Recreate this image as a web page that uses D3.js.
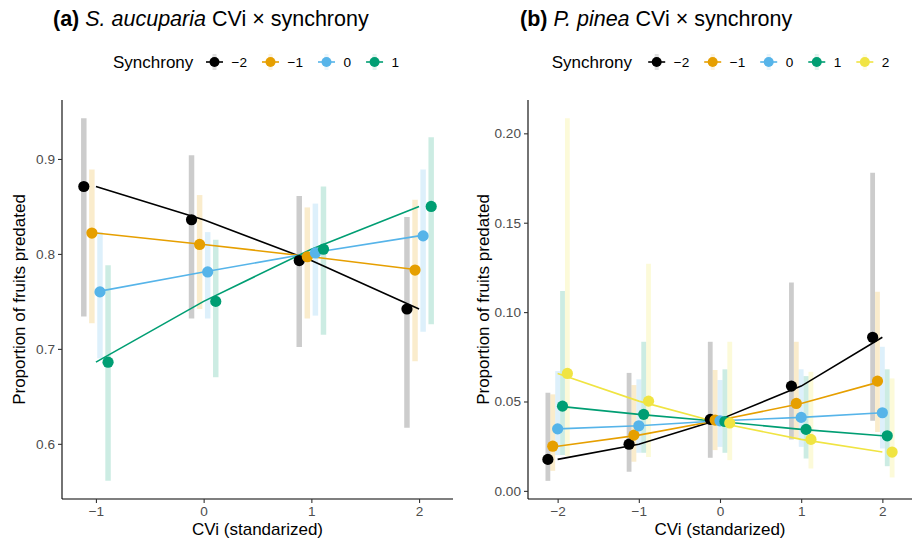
<!DOCTYPE html>
<html>
<head>
<meta charset="utf-8">
<script src="https://cdn.jsdelivr.net/npm/d3@7/dist/d3.min.js"></script>
<style>
  html, body { margin: 0; padding: 0; background: #fff; }
  svg { display: block; font-family: "Liberation Sans", Arial, Helvetica, sans-serif; }
</style>
</head>
<body>
<svg id="chart" width="921" height="544"></svg>
<script>
// ---------------- DATA ----------------
// Panel (a): S. aucuparia
const cviA = [-1, 0, 1, 2];
const syncA = ["\u22122", "\u22121", "0", "1"];
const fitA = [
  [0.871, 0.836, 0.793, 0.742],
  [0.822, 0.810, 0.797, 0.783],
  [0.760, 0.781, 0.801, 0.819],
  [0.686, 0.750, 0.805, 0.850]
];
const loA = [
  [0.734, 0.732, 0.702, 0.617],
  [0.727, 0.742, 0.732, 0.687],
  [0.690, 0.732, 0.735, 0.718],
  [0.561, 0.670, 0.715, 0.726]
];
const hiA = [
  [0.943, 0.904, 0.861, 0.839],
  [0.889, 0.862, 0.849, 0.857],
  [0.823, 0.823, 0.853, 0.889],
  [0.788, 0.815, 0.871, 0.923]
];
const yTicksA = [0.6, 0.7, 0.8, 0.9];
const yTickLabelsA = ["0.6", "0.7", "0.8", "0.9"];
const xTicksA = [-1, 0, 1, 2];
const xTickLabelsA = ["\u22121", "0", "1", "2"];

// Panel (b): P. pinea
const cviB = [-2, -1, 0, 1, 2];
const syncB = ["\u22122", "\u22121", "0", "1", "2"];
const fitB = [
  [0.0176, 0.0261, 0.0400, 0.0586, 0.0859],
  [0.0250, 0.0312, 0.0396, 0.0489, 0.0614],
  [0.0347, 0.0364, 0.0392, 0.0411, 0.0437],
  [0.0474, 0.0428, 0.0388, 0.0344, 0.0308],
  [0.0657, 0.0502, 0.0380, 0.0288, 0.0217]
];
const loB = [
  [0.0056, 0.0107, 0.0185, 0.0288, 0.0392],
  [0.0112, 0.0163, 0.0228, 0.0293, 0.0330],
  [0.0200, 0.0213, 0.0246, 0.0246, 0.0237],
  [0.0200, 0.0213, 0.0213, 0.0181, 0.0138],
  [0.0194, 0.0190, 0.0172, 0.0125, 0.0075]
];
const hiB = [
  [0.0549, 0.0660, 0.0834, 0.1165, 0.1780],
  [0.0540, 0.0592, 0.0676, 0.0834, 0.1114],
  [0.0670, 0.0624, 0.0620, 0.0680, 0.0806],
  [0.1118, 0.0834, 0.0680, 0.0642, 0.0680],
  [0.2085, 0.1270, 0.0834, 0.0666, 0.0629]
];
const yTicksB = [0, 0.05, 0.10, 0.15, 0.20];
const yTickLabelsB = ["0.00", "0.05", "0.10", "0.15", "0.20"];
const xTicksB = [-2, -1, 0, 1, 2];
const xTickLabelsB = ["\u22122", "\u22121", "0", "1", "2"];

const palette = ["#000000", "#E69F00", "#56B4E9", "#009E73", "#F0E442"];

// ---------------- DRAW ----------------
const svg = d3.select("#chart");
svg.append("rect").attr("width", 921).attr("height", 544).attr("fill", "#fff");

function drawPanel(cfg) {
  const n = cfg.groups.length;
  const dodge = 0.3;
  const xr = d3.extent(cfg.x);
  const xPad = dodge / 2;
  const xspan = (xr[1] - xr[0]) + 2 * xPad;
  const x = d3.scaleLinear()
    .domain([xr[0] - xPad - 0.05 * xspan, xr[1] + xPad + 0.05 * xspan])
    .range([cfg.left, cfg.right]);
  const ymin = d3.min(cfg.lo.flat()), ymax = d3.max(cfg.hi.flat());
  const yspan = ymax - ymin;
  const y = d3.scaleLinear()
    .domain([ymin - 0.05 * yspan, ymax + 0.05 * yspan])
    .range([cfg.bottom, cfg.top]);

  const g = svg.append("g");
  const off = i => (i - (n - 1) / 2) * dodge / n;

  // CI bars
  cfg.groups.forEach((grp, i) => {
    g.append("g").selectAll("line")
      .data(cfg.x.map((xv, j) => ({ xv, lo: cfg.lo[i][j], hi: cfg.hi[i][j] })))
      .join("line")
      .attr("x1", d => x(d.xv + off(i))).attr("x2", d => x(d.xv + off(i)))
      .attr("y1", d => y(d.lo)).attr("y2", d => y(d.hi))
      .attr("stroke", palette[i]).attr("stroke-opacity", 0.2)
      .attr("stroke-width", cfg.barW);
  });
  // lines
  const line = d3.line().x(d => x(d.xv)).y(d => y(d.v));
  cfg.groups.forEach((grp, i) => {
    g.append("path")
      .datum(cfg.x.map((xv, j) => ({ xv, v: cfg.fit[i][j] })))
      .attr("d", line).attr("fill", "none")
      .attr("stroke", palette[i]).attr("stroke-width", 1.6);
  });
  // points
  cfg.groups.forEach((grp, i) => {
    g.append("g").selectAll("circle")
      .data(cfg.x.map((xv, j) => ({ xv, v: cfg.fit[i][j] })))
      .join("circle")
      .attr("cx", d => x(d.xv + off(i))).attr("cy", d => y(d.v))
      .attr("r", 5.6).attr("fill", palette[i]);
  });

  // axes
  const xAxis = d3.axisBottom(x).tickValues(cfg.xTicks)
    .tickFormat((d, k) => cfg.xTickLabels[k]).tickSize(4).tickPadding(3).tickSizeOuter(0);
  const gx = svg.append("g").attr("transform", `translate(0,${cfg.bottom})`).call(xAxis);
  const yAxis = d3.axisLeft(y).tickValues(cfg.yTicks)
    .tickFormat((d, k) => cfg.yTickLabels[k]).tickSize(4).tickPadding(3).tickSizeOuter(0);
  const gy = svg.append("g").attr("transform", `translate(${cfg.left},0)`).call(yAxis);
  [gx, gy].forEach(ax => {
    ax.select(".domain").attr("stroke", "#000").attr("stroke-width", 1.1);
    ax.selectAll(".tick line").attr("stroke", "#333").attr("stroke-width", 1.1);
    ax.selectAll(".tick text").attr("fill", "#4d4d4d").attr("font-size", 13.6)
      .attr("font-family", "Liberation Sans, Arial, sans-serif");
  });
  gx.select(".domain").attr("d", `M${cfg.left},0H${cfg.right}`);
  gy.select(".domain").attr("d", `M0,${cfg.top}V${cfg.bottom}`);

  // axis titles
  svg.append("text").attr("x", (cfg.left + cfg.right) / 2).attr("y", 535)
    .attr("text-anchor", "middle").attr("font-size", 17).attr("fill", "#000")
    .text("CVi (standarized)");
  svg.append("text")
    .attr("transform", `translate(${cfg.yTitleX},${(cfg.top + cfg.bottom) / 2}) rotate(-90)`)
    .attr("text-anchor", "middle").attr("font-size", 17).attr("fill", "#000")
    .text("Proportion of fruits predated");

  // panel title
  const t = svg.append("text").attr("x", cfg.titleX).attr("y", 26)
    .attr("font-size", 21.5).attr("fill", "#000");
  t.append("tspan").attr("font-weight", "bold").text(cfg.tag + " ");
  t.append("tspan").attr("font-style", "italic").text(cfg.species);
  t.append("tspan").text(" CVi \u00d7 synchrony");

  // legend
  const ly = 62;
  svg.append("text").attr("x", cfg.legX).attr("y", ly + 6)
    .attr("font-size", 17).attr("fill", "#000").text("Synchrony");
  let kx = cfg.legKey0;
  cfg.groups.forEach((grp, i) => {
    const lg = svg.append("g");
    lg.append("line").attr("x1", kx).attr("x2", kx).attr("y1", ly - 8).attr("y2", ly + 8)
      .attr("stroke", palette[i]).attr("stroke-opacity", 0.12).attr("stroke-width", 4);
    lg.append("line").attr("x1", kx - 8.5).attr("x2", kx + 8.5).attr("y1", ly).attr("y2", ly)
      .attr("stroke", palette[i]).attr("stroke-width", 1.6);
    lg.append("circle").attr("cx", kx).attr("cy", ly).attr("r", 5).attr("fill", palette[i]);
    const lt = lg.append("text").attr("x", kx + 17).attr("y", ly + 5)
      .attr("font-size", 13.6).attr("fill", "#000").text(grp);
    const w = lt.node().getComputedTextLength();
    kx = kx + 17 + w + 23.5;
  });
}

drawPanel({
  x: cviA, groups: syncA, fit: fitA, lo: loA, hi: hiA,
  xTicks: xTicksA, xTickLabels: xTickLabelsA, yTicks: yTicksA, yTickLabels: yTickLabelsA,
  left: 62, right: 453, top: 100, bottom: 499, barW: 5.5,
  yTitleX: 25, titleX: 53, tag: "(a)", species: "S. aucuparia",
  legX: 113, legKey0: 214.5
});
drawPanel({
  x: cviB, groups: syncB, fit: fitB, lo: loB, hi: hiB,
  xTicks: xTicksB, xTickLabels: xTickLabelsB, yTicks: yTicksB, yTickLabels: yTickLabelsB,
  left: 528, right: 912, top: 100, bottom: 499, barW: 4.8,
  yTitleX: 489, titleX: 520, tag: "(b)", species: "P. pinea",
  legX: 551.7, legKey0: 656.7
});
</script>
</body>
</html>
